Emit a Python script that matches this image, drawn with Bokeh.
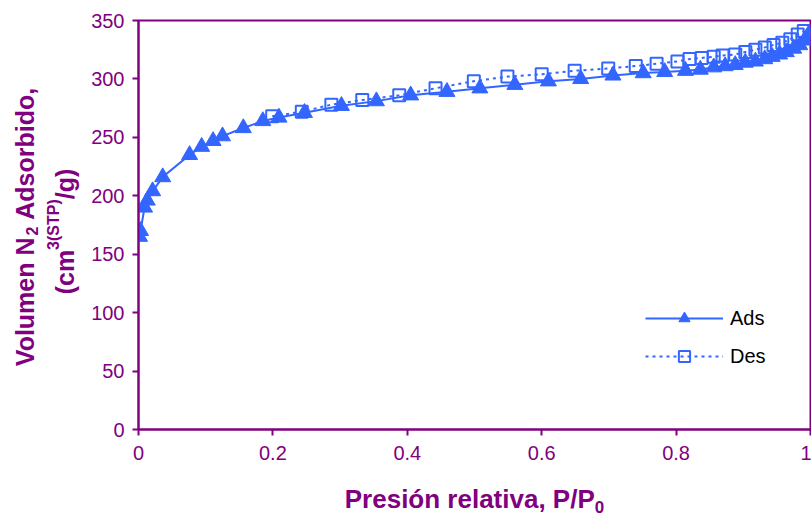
import math
from bokeh.plotting import figure
from bokeh.models import FixedTicker, Legend, LegendItem, Range1d
from bokeh.layouts import row, column
from bokeh.core.properties import value
from bokeh.embed import file_html
from bokeh.resources import INLINE

# ---------------- data ----------------
ads_p = [0.0015, 0.003, 0.009, 0.013, 0.021, 0.036, 0.076, 0.094, 0.111, 0.125,
         0.156, 0.185, 0.209, 0.247, 0.302, 0.354, 0.405, 0.459, 0.508, 0.560,
         0.610, 0.658, 0.706, 0.751, 0.783, 0.814, 0.836, 0.856, 0.873, 0.888,
         0.903, 0.918, 0.932, 0.943, 0.954, 0.964, 0.975, 0.984, 0.991, 0.997]
ads_v = [165, 170, 190, 196, 204, 216, 235, 242, 247, 251,
         258, 264, 267, 271, 277, 281, 286, 289, 292, 295,
         298, 300, 303, 305, 306, 307, 308, 310, 311, 312,
         314, 315, 317, 319, 321, 323, 326, 329, 333, 338]

des_p = [0.199, 0.243, 0.287, 0.333, 0.388, 0.442, 0.499, 0.549, 0.600, 0.649,
         0.699, 0.740, 0.771, 0.802, 0.820, 0.838, 0.856, 0.869, 0.888, 0.903,
         0.918, 0.932, 0.945, 0.958, 0.970, 0.981, 0.990]
des_v = [268, 272, 278, 282, 286, 292, 298, 302, 304, 307,
         309, 311, 313, 315, 317, 318, 319, 320, 321, 323,
         325, 327, 329, 331, 334, 338, 341]

x_ticks = [0, 0.2, 0.4, 0.6, 0.8, 1.0]
x_tick_labels = ["0", "0.2", "0.4", "0.6", "0.8", "1"]
y_ticks = [0, 50, 100, 150, 200, 250, 300, 350]

series_names = ["Ads", "Des"]
x_title = ["Presión relativa, P/P", "0"]
y_title_1 = ["Volumen N", "2", "Adsorbido,"]
y_title_2 = ["(cm", "3(STP)", "/g)"]

# ---------------- style / layout ----------------
PURPLE = "#800080"
BLUE = "#3366FF"
FONT = "Liberation Sans"

W, H = 811, 517
YW = 80            # width of the strip holding the y title
XH = 40            # height of the strip holding the x title
MH = H - XH        # main figure height
FT, FB = 20, 429   # page y of frame top / bottom
L, R, T, B = 138 - YW, 1, FT, MH - FB

p = figure(width=W - YW, height=MH, x_range=Range1d(0, 1), y_range=Range1d(0, 350),
           output_backend="svg", toolbar_location=None, title=None,
           min_border_left=L, min_border_right=R, min_border_top=T, min_border_bottom=B)
p.background_fill_color = "white"
p.border_fill_color = "white"
p.outline_line_color = PURPLE
p.outline_line_width = 2
p.xgrid.visible = False
p.ygrid.visible = False

for ax in (p.xaxis[0], p.yaxis[0]):
    ax.axis_line_color = PURPLE
    ax.axis_line_width = 2
    ax.major_tick_line_color = PURPLE
    ax.major_tick_line_width = 2
    ax.major_tick_out = 6
    ax.major_tick_in = 0
    ax.minor_tick_line_color = None
    ax.major_label_text_font = FONT
    ax.major_label_text_font_size = "20px"
    ax.major_label_text_color = PURPLE

p.xaxis[0].ticker = FixedTicker(ticks=x_ticks)
p.xaxis[0].major_label_overrides = {t: s for t, s in zip(x_ticks, x_tick_labels)}
p.xaxis[0].major_label_standoff = 10
p.yaxis[0].ticker = FixedTicker(ticks=y_ticks)
p.yaxis[0].major_label_standoff = 8

# ---------------- series ----------------
des_line = p.line(des_p, des_v, line_color=BLUE, line_width=2, line_dash="3 4")
des_pts = p.scatter(des_p, des_v, marker="square", size=12, line_color=BLUE,
                    line_width=2, fill_alpha=0)
ads_line = p.line(ads_p, ads_v, line_color=BLUE, line_width=2)
ads_pts = p.scatter(ads_p, ads_v, marker="triangle", size=16, line_color=BLUE,
                    fill_color=BLUE)

legend = Legend(items=[LegendItem(label=series_names[0], renderers=[ads_line, ads_pts]),
                       LegendItem(label=series_names[1], renderers=[des_line, des_pts])],
                location=(507, 59), glyph_width=78, glyph_height=28, label_standoff=7,
                spacing=10, padding=0, margin=0, border_line_alpha=0,
                background_fill_alpha=0, label_text_font=FONT,
                label_text_font_size="20px", label_text_color="black",
                label_height=22)
p.add_layout(legend)

# ---------------- title strips (real text, Arial-Bold metrics) ----------------
BOLD_W = {" ": 278, "(": 333, ")": 333, ",": 278, "/": 278, "0": 556, "1": 556, "2": 556,
          "3": 556, "A": 722, "N": 722, "P": 667, "S": 667, "T": 611, "V": 667,
          "a": 556, "b": 611, "c": 556, "d": 611, "e": 556, "g": 611, "i": 278,
          "l": 278, "m": 889, "n": 611, "o": 611, "r": 389, "s": 556, "t": 333,
          "u": 611, "v": 556, "ó": 611}
MID = 0.3465       # distance baseline -> text middle, in em


def text_w(s, size):
    return sum(BOLD_W.get(c, 556) for c in s) * size / 1000.0


def strip(w, h, yr):
    f = figure(width=w, height=h, x_range=Range1d(0, w), y_range=Range1d(*yr),
               x_axis_type=None, y_axis_type=None, output_backend="svg", title=None,
               toolbar_location=None, min_border=0, min_border_left=0,
               min_border_right=0, min_border_top=0, min_border_bottom=0)
    f.outline_line_color = None
    f.background_fill_color = "white"
    f.border_fill_color = "white"
    f.xgrid.visible = False
    f.ygrid.visible = False
    return f


def put(f, x, y, s, size, angle=0.0):
    f.text(x=[x], y=[y], text=[s], angle=angle, text_font=value(FONT),
           text_font_style="bold", text_font_size=value(f"{size}px"),
           text_color=PURPLE, text_align="left", text_baseline="middle")


# y title strip: its frame is aligned with the main frame (page y FT..FB);
# data y = H - page y
yfig = strip(YW, MH, (H - FB, H - FT))


def vline(parts, base_x, center_y):
    # parts: (text, size, baseline shift, gap before)
    total = sum(text_w(s, sz) + g for s, sz, _, g in parts)
    cur = center_y + total / 2          # page y of the start (bottom)
    for s, sz, sh, g in parts:
        cur -= g
        put(yfig, base_x + sh - MID * sz, H - cur, s, sz, angle=math.pi / 2)
        cur -= text_w(s, sz)


vline([(y_title_1[0], 25, 0, 0), (y_title_1[1], 16, 4, 0),
       (y_title_1[2], 25, 0, text_w(" ", 25))], 33, 226.5)
vline([(y_title_2[0], 25, 0, 0), (y_title_2[1], 16, -14, 0),
       (y_title_2[2], 25, 0, 0)], 73, 231)

# x title strip: page y MH..H, data y = H - page y
xfig = strip(W, XH, (0, XH))
pieces = [(x_title[0], 26, 0), (x_title[1], 17, 4)]
total = sum(text_w(s, sz) for s, sz, _ in pieces)
cur = 138 + 672 / 2 - total / 2
base = 508
for s, sz, sh in pieces:
    put(xfig, cur, H - (base + sh - MID * sz), s, sz)
    cur += text_w(s, sz)

layout = column(row(yfig, p, spacing=0), xfig, spacing=0)
open("out.html", "w").write(file_html(layout, INLINE))
